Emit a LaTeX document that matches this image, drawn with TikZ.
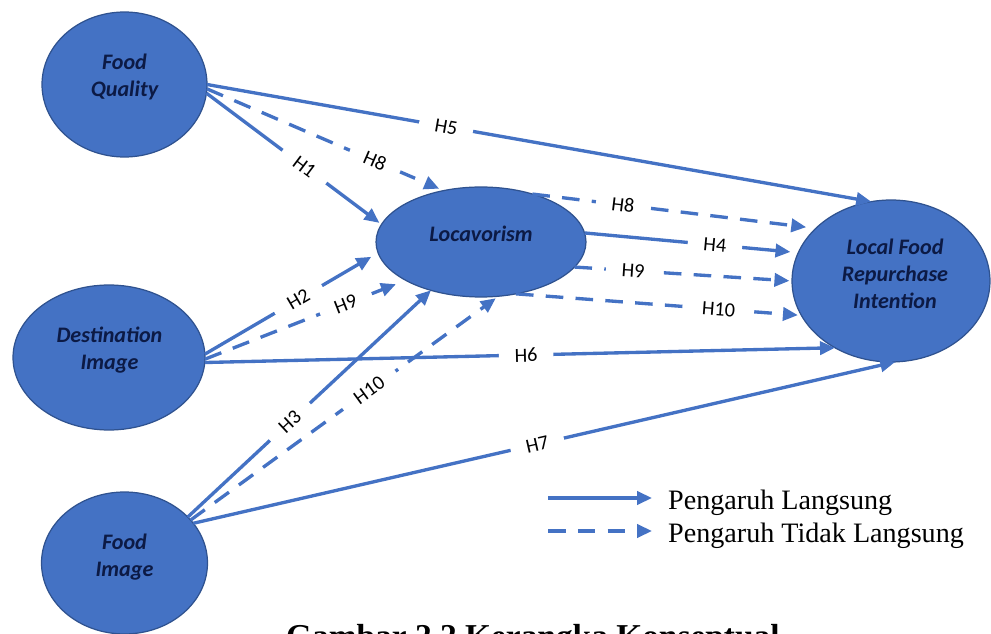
\documentclass[tikz,border=0pt]{standalone}
\usepackage{fontspec}
\setmainfont{Liberation Serif}
\newfontfamily\calfont{Carlito}
\usetikzlibrary{shapes.geometric,arrows.meta}
\definecolor{pathblue}{HTML}{4472C4}
\definecolor{fillblue}{HTML}{4472C4}
\definecolor{rimblue}{HTML}{2F528F}
\definecolor{inkblue}{HTML}{0C1A45}
\begin{document}
\begin{tikzpicture}[x=0.02cm,y=-0.02cm,
  construct/.style={ellipse, fill=fillblue, draw=rimblue, line width=0.7pt,
    inner sep=0pt, outer sep=0pt},
  conlabel/.style={text=inkblue, align=center,
    font=\calfont\bfseries\itshape\fontsize{12.6}{15.5}\selectfont},
  link/.style={draw=pathblue, line width=1.9pt,
    -{Triangle[length=8.5pt,width=7.5pt]}},
  direct/.style={link},
  indirect/.style={link, dash pattern=on 10pt off 7pt},
  hyp/.style={font=\calfont\fontsize{11.5}{13}\selectfont, fill=white,
    inner xsep=9pt, inner ysep=1.5pt, sloped},
  legendtext/.style={font=\fontsize{16}{19}\selectfont, anchor=base west}
]
\useasboundingbox (0,0) rectangle (991,634);
\clip (0,0) rectangle (991,634);

% constructs
\node[construct, minimum width=3.30cm, minimum height=2.90cm] (fq)   at (124.5,84.5) {};
\node[construct, minimum width=3.84cm, minimum height=2.90cm] (dest) at (109,357.5) {};
\node[construct, minimum width=3.32cm, minimum height=2.84cm] (fi)   at (124.5,563) {};
\node[construct, minimum width=4.20cm, minimum height=2.20cm] (loc)  at (481,242) {};
\node[construct, minimum width=3.96cm, minimum height=3.24cm] (lf)   at (891,281) {};

\node[conlabel] (fqt)   at (124.5,77) {Food\\Quality};
\node[conlabel] (destt) at (109.5,350) {Destination\\Image};
\node[conlabel] (fit)   at (124.5,557) {Food\\Image};
\node[conlabel] (loct)  at (481,234) {Locavorism};
\node[conlabel] (lft)   at (895,274) {Local Food\\Repurchase\\Intention};

% hypothesised paths from the three antecedents
\draw[direct] (fq.0) -- node[hyp, pos=0.36] (h5) {H5} (lf.104);
\draw[indirect, shorten >=2.8pt] (fq.-3) -- node[hyp, pos=0.71] (h8a) {H8} (loc.126);
\draw[direct, shorten >=1.5pt] (fq.-6) -- node[hyp, pos=0.56] (h1) {H1} (loc.170);
\draw[direct, shorten >=4.5pt] (dest.2) -- node[hyp, pos=0.54] (h2) {H2} (loc.186);
\draw[indirect, shorten >=6pt] (dest.-1) -- node[hyp, pos=0.70] (h9a) {H9} (loc.207);
\draw[direct] (dest.-3) -- node[hyp, pos=0.51] (h6) {H6} (lf.230);
\draw[direct] (fi.36) -- node[hyp, pos=0.42] (h3) {H3} (loc.224);
\draw[indirect, shorten >=2pt] (fi.33) -- node[hyp, pos=0.58] (h10a) {H10} (loc.-72);
\draw[direct] (fi.30) -- node[hyp, pos=0.49] (h7) {H7} (lf.273);

% paths from Locavorism to repurchase intention
\draw[indirect, shorten >=5.5pt] (loc.43) -- node[hyp, pos=0.32] (h8b) {H8} (lf.145);
\draw[direct, shorten >=4.5pt] (loc.5) -- node[hyp, pos=0.61] (h4) {H4} (lf.163);
\draw[indirect, shorten >=1.5pt] (loc.-15) -- node[hyp, pos=0.27] (h9b) {H9} (lf.180);
\draw[indirect, shorten >=2pt] (loc.-56) -- node[hyp, pos=0.71] (h10b) {H10} (lf.201);

% legend
\coordinate (la1) at (548,498);
\coordinate (lb1) at (652,498);
\coordinate (la2) at (548,531);
\coordinate (lb2) at (652,531);
\draw[direct] (la1) -- (lb1);
\draw[indirect] (la2) -- (lb2);
\node[legendtext] (lt1) at (662,510) {Pengaruh Langsung};
\node[legendtext] (lt2) at (662,543) {Pengaruh Tidak Langsung};

% caption
\node[anchor=base west, font=\bfseries\fontsize{19}{23}\selectfont] (cap)
  at (280,648) {Gambar 2.2 Kerangka Konseptual};
\end{tikzpicture}
\end{document}
